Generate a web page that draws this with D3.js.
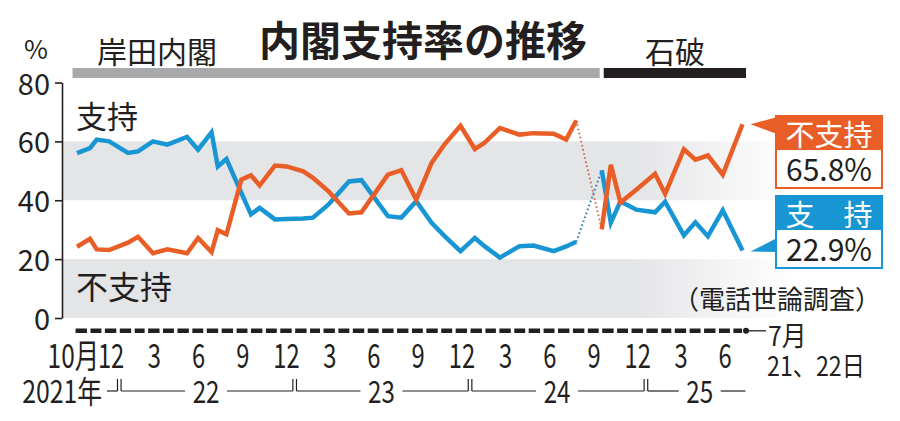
<!DOCTYPE html>
<html>
<head>
<meta charset="utf-8">
<script src="https://cdn.jsdelivr.net/npm/d3@7"></script>
<style>
  body { margin: 0; background: #fff; }
  text { font-family: "Noto Sans CJK JP", "Noto Sans", sans-serif; fill: #231f20; }
</style>
</head>
<body>
<script>
// 共同通信 電話世論調査 (2021/10 - 2025/7)
var pollDates = [
    "2021-10-05", "2021-11-01", "2021-11-15", "2021-12-11", "2022-01-19", "2022-02-09",
    "2022-03-12", "2022-04-11", "2022-05-22", "2022-06-14", "2022-07-12", "2022-07-25",
    "2022-08-12", "2022-09-12", "2022-10-02", "2022-10-20", "2022-11-21", "2022-12-15",
    "2023-01-19", "2023-02-08", "2023-03-12", "2023-04-24", "2023-05-20", "2023-07-14",
    "2023-08-11", "2023-09-11", "2023-10-13", "2023-11-09", "2023-12-12", "2024-01-11",
    "2024-01-31", "2024-03-03", "2024-04-13", "2024-05-12", "2024-06-23", "2024-07-19",
    "2024-08-09",
    "2024-10-01", "2024-10-20", "2024-11-09", "2024-12-12", "2025-01-20", "2025-02-10",
    "2025-03-21", "2025-04-14", "2025-05-10", "2025-06-10", "2025-07-21"
];
var approval = [
    56.0, 57.7, 60.6, 60.0, 56.1, 56.6, 60.0, 58.9, 61.5, 57.2, 63.1, 51.5,
    54.0, 42.5, 35.2, 37.4, 33.5, 33.6, 33.8, 34.1, 38.5, 46.4, 46.8, 34.6,
    34.1, 39.7, 32.3, 27.8, 22.7, 27.2, 24.4, 20.5, 24.4, 24.6, 22.7, 24.3,
    25.9,
    50.2, 32.4, 39.6, 36.8, 35.9, 39.5, 28.1, 32.5, 27.8, 36.6, 22.9
];
var disapproval = [
    24.2, 26.9, 23.3, 23.1, 25.6, 27.6, 22.0, 23.3, 22.0, 27.2, 22.4, 29.8,
    28.4, 47.0, 48.5, 45.0, 51.8, 51.5, 49.8, 47.6, 43.1, 35.5, 35.9, 48.7,
    50.2, 40.2, 52.7, 59.0, 65.3, 57.4, 59.5, 64.5, 62.3, 62.8, 62.6, 60.6,
    67.1,
    30.1, 52.0, 39.2, 43.6, 49.0, 42.2, 57.3, 53.8, 55.2, 48.7, 65.8
];

var cabinetNames = ["岸田内閣", "石破"];
var cabinetStarts = ["2021-10-04", "2024-10-01"];
var cabinetEnds = ["2024-10-01", "2025-07-21"];

var yTicks = [0, 20, 40, 60, 80];
var monthLabels = ["12", "3", "6", "9", "12", "3", "6", "9", "12", "3", "6", "9", "12", "3", "6"];
var yearLabels = ["2021年", "22", "23", "24", "25"];

var orange = "#e95e27";
var blue = "#1896d4";
var band = "#e4e5e7";

var parse = d3.timeParse("%Y-%m-%d");
var polls = pollDates.map(function(d, i) {
    return { date: parse(d), yes: approval[i], no: disapproval[i] };
});
var change = parse(cabinetStarts[1]);
var kishida = polls.filter(function(d) { return d.date < change; });
var ishiba = polls.filter(function(d) { return d.date >= change; });
var bridge = [kishida[kishida.length - 1], ishiba[0]];
var last = polls[polls.length - 1];

var svg = d3.select("body").append("svg").attr("width", 900).attr("height", 421);

var x = d3.scaleTime().domain([polls[0].date, last.date]).range([77, 742.5]);
var y = d3.scaleLinear().domain([0, 80]).range([318, 82.5]);

// text with horizontal squeeze (the original uses a condensed face)
function label(txt, px, py, size, opts) {
    opts = opts || {};
    return svg.append("text")
        .attr("transform", "translate(" + px + "," + py + ") scale(" + (opts.sx || 1) + ",1)")
        .attr("text-anchor", opts.anchor || "start")
        .attr("dominant-baseline", opts.base || "auto")
        .attr("font-size", size)
        .attr("font-weight", opts.weight || 400)
        .style("fill", opts.fill || "#231f20")
        .text(txt);
}

// gray bands, fading out to the right
var grad = svg.append("defs").append("linearGradient")
    .attr("id", "fade").attr("gradientUnits", "userSpaceOnUse")
    .attr("x1", 63).attr("x2", 795).attr("y1", 0).attr("y2", 0);
grad.append("stop").attr("offset", 0).attr("stop-color", band);
grad.append("stop").attr("offset", 0.78).attr("stop-color", band);
grad.append("stop").attr("offset", 1).attr("stop-color", "#fff");

[[40, 60], [0, 20]].forEach(function(b) {
    svg.append("rect")
        .attr("x", 63).attr("width", 732)
        .attr("y", y(b[1])).attr("height", y(b[0]) - y(b[1]))
        .attr("fill", "url(#fade)");
});

// y axis
var yAxis = svg.append("g")
    .attr("transform", "translate(62,0)")
    .call(d3.axisLeft(y).tickValues(yTicks).tickSize(7).tickSizeOuter(0).tickPadding(5));
yAxis.select(".domain").attr("stroke", "#231f20").attr("stroke-width", 1.6);
yAxis.selectAll(".tick line").attr("stroke", "#231f20").attr("stroke-width", 1.6);
yAxis.selectAll(".tick text")
    .attr("font-size", 29)
    .attr("font-family", "'Noto Sans CJK JP', sans-serif")
    .attr("dy", "0.4em")
    .style("fill", "#231f20");
label("%", 36, 47, 26, { anchor: "middle", base: "central" });

// title and cabinet bars
label("内閣支持率の推移", 423, 38, 41, { anchor: "middle", base: "central", weight: 700 });

var barColors = ["#a8a9ab", "#231f20"];
cabinetNames.forEach(function(name, i) {
    var x0 = x(parse(cabinetStarts[i])) - (i == 0 ? 4 : -2);
    var x1 = x(parse(cabinetEnds[i])) - (i == 0 ? 2 : -3.5);
    svg.append("rect")
        .attr("x", x0).attr("y", 68).attr("width", x1 - x0).attr("height", 10)
        .attr("fill", barColors[i]);
});
label(cabinetNames[0], 97, 50, 30, { base: "central" });
label(cabinetNames[1], 675, 50, 30, { anchor: "middle", base: "central" });

label("支持", 76, 114, 31, { base: "central" });
label("不支持", 76, 285, 32, { base: "central" });
label("（電話世論調査）", 673, 297, 26, { base: "central" });

// month baseline: one dash per month
var months = d3.timeMonth.range(new Date(2021, 9, 1), new Date(2025, 6, 1));
svg.selectAll(".dash").data(months).enter().append("rect")
    .attr("class", "dash")
    .attr("x", function(d) { return x(d) + 0.5; })
    .attr("width", function(d) { return x(d3.timeMonth.offset(d, 1)) - x(d) - 3.5; })
    .attr("y", 328.5).attr("height", 4.5)
    .attr("fill", "#231f20");
svg.append("rect")
    .attr("x", x(new Date(2025, 6, 1)) + 0.5).attr("y", 328.5)
    .attr("width", x(last.date) - x(new Date(2025, 6, 1)) - 1).attr("height", 4.5)
    .attr("fill", "#231f20");
svg.append("circle").attr("cx", x(last.date) + 3.5).attr("cy", 330.8).attr("r", 3).attr("fill", "#231f20");
svg.append("line")
    .attr("x1", x(last.date) + 4).attr("x2", 766).attr("y1", 330.8).attr("y2", 330.8)
    .attr("stroke", "#231f20").attr("stroke-width", 1.3);
label("7月", 768, 346, 27, { sx: 0.92 });
label("21、22日", 767, 376, 27, { sx: 0.86 });

// month tick labels (centred on mid-month)
var monthTicks = d3.timeMonth.range(new Date(2021, 11, 1), new Date(2025, 6, 1), 3)
    .map(function(d) { return d3.timeDay.offset(d, 14); });
monthTicks.forEach(function(d, i) {
    label(monthLabels[i], x(d), 368, 33, { anchor: "middle", sx: 0.72 });
});
label("10月", x(monthTicks[0]) - 12, 368, 33, { anchor: "end", sx: 0.74 });

// year row with brackets
var yearStarts = [2022, 2023, 2024, 2025].map(function(yr) { return new Date(yr, 0, 1); });
var yearRow = 391;
label(yearLabels[0], 102, 403, 31, { anchor: "end", sx: 0.8 });

function hline(a, b) {
    svg.append("line").attr("x1", a).attr("x2", b).attr("y1", yearRow).attr("y2", yearRow)
        .attr("stroke", "#231f20").attr("stroke-width", 1.2);
}
function vline(a) {
    svg.append("line").attr("x1", a).attr("x2", a).attr("y1", yearRow - 12).attr("y2", yearRow)
        .attr("stroke", "#231f20").attr("stroke-width", 1.2);
}

yearStarts.forEach(function(d, i) {
    var bx = x(d);
    if (i == 0) {
        hline(107, bx - 1.8);
    }
    vline(bx - 1.8);
    vline(bx + 1.8);
    var nextB = i < yearStarts.length - 1 ? x(yearStarts[i + 1]) - 1.8 : x(last.date) + 3;
    var cx = (bx + nextB) / 2 + (i == yearStarts.length - 1 ? 4 : 0);
    label(yearLabels[i + 1], cx, 403, 31, { anchor: "middle", sx: 0.78 });
    hline(bx + 1.8, cx - 21);
    hline(cx + 21, nextB);
});

// lines
var lineYes = d3.line().x(function(d) { return x(d.date); }).y(function(d) { return y(d.yes); });
var lineNo = d3.line().x(function(d) { return x(d.date); }).y(function(d) { return y(d.no); });

svg.append("path").datum(bridge).attr("d", lineYes)
    .attr("fill", "none").attr("stroke", "#2a7fb0").attr("stroke-width", 2)
    .attr("stroke-dasharray", "1.6,2.6");
svg.append("path").datum(bridge).attr("d", lineNo)
    .attr("fill", "none").attr("stroke", "#d0704a").attr("stroke-width", 2)
    .attr("stroke-dasharray", "1.6,2.6");

[kishida, ishiba].forEach(function(seg) {
    svg.append("path").datum(seg).attr("d", lineYes)
        .attr("fill", "none").attr("stroke", blue).attr("stroke-width", 4.5);
    svg.append("path").datum(seg).attr("d", lineNo)
        .attr("fill", "none").attr("stroke", orange).attr("stroke-width", 4.5);
});

// end callouts
var fmt = d3.format(".1f");
function callout(top, color, title, value, endY, tri) {
    svg.append("path")
        .attr("d", "M" + (x(last.date) + 8) + "," + endY + "L777," + tri[0] + "L777," + tri[1] + "Z")
        .attr("fill", color);
    svg.append("rect").attr("x", 776).attr("y", top).attr("width", 106).attr("height", 72)
        .attr("fill", "#fff").attr("stroke", color).attr("stroke-width", 2);
    svg.append("rect").attr("x", 775).attr("y", top - 1).attr("width", 108).attr("height", 35)
        .attr("fill", color);
    label(title, 829, top + 17, 29, { anchor: "middle", base: "central", fill: "#fff" });
    label(value + "%", 829, top + 65, 31, { anchor: "middle", sx: 0.97 });
}
callout(116, orange, "不支持", fmt(last.no), y(last.no), [117, 134]);
callout(196, blue, "支　持", fmt(last.yes), y(last.yes) + 1, [238, 252]);
</script>
</body>
</html>
